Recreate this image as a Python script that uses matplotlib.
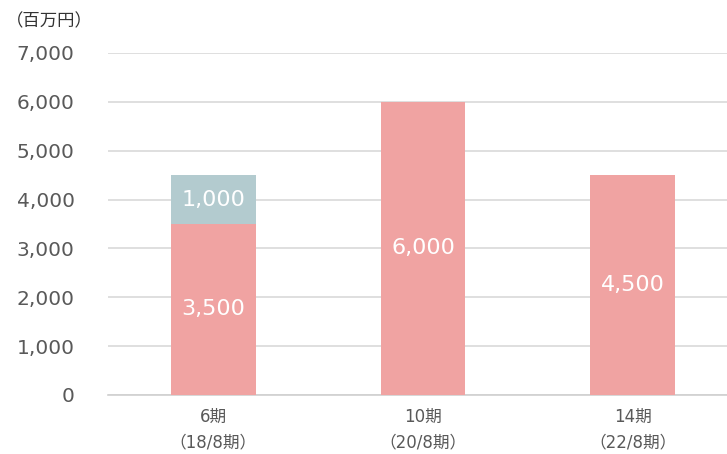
import matplotlib
matplotlib.use("Agg")
import matplotlib.pyplot as plt
import numpy as np

plt.rcParams['font.family'] = ['DejaVu Sans', 'Noto Sans CJK JP']

# data
categories = ["6期\n（18/8期）", "10期\n（20/8期）", "14期\n（22/8期）"]
base_values = [3500, 6000, 4500]
top_values = [1000, 0, 0]
y_ticks = [0, 1000, 2000, 3000, 4000, 5000, 6000, 7000]

pink = "#F0A3A2"
grey_blue = "#B3CBCF"
txt = "#595959"

fig = plt.figure(figsize=(7.27, 4.54), dpi=100)
ax = fig.add_axes([0.1486, 0.13, 0.8514, 0.7533])

x = np.arange(len(categories))
w = 0.405
ax.bar(x, base_values, w, color=pink, zorder=3)
ax.bar(x, top_values, w, bottom=base_values, color=grey_blue, zorder=3)

# white value labels inside bars
for i in range(len(x)):
    ax.text(x[i], base_values[i] / 2, f"{base_values[i]:,}", ha="center", va="center",
            color="white", fontsize=16, zorder=4)
    if top_values[i] > 0:
        ax.text(x[i], base_values[i] + top_values[i] / 2, f"{top_values[i]:,}",
                ha="center", va="center", color="white", fontsize=16, zorder=4)

ax.set_ylim(0, 7000)
ax.set_xlim(-0.502, 2.45)
ax.set_yticks(y_ticks)
ax.set_yticklabels([f"{v:,}" for v in y_ticks])
ax.set_xticks(x)
ax.set_xticklabels(categories, fontsize=12, color=txt, linespacing=1.6)
ax.tick_params(axis="y", length=0, pad=24, labelsize=14.5, labelcolor=txt)
ax.tick_params(axis="x", length=0, pad=9)

ax.grid(axis="y", color="#D9D9D9", linewidth=1.2, zorder=0)
for s in ["top", "right", "left"]:
    ax.spines[s].set_visible(False)
ax.spines["bottom"].set_color("#D0D0D0")
ax.spines["bottom"].set_linewidth(1.2)

fig.text(6 / 727, 1 - 21 / 454, "（百万円）", fontsize=12.5, color="#333333",
         ha="left", va="center")

fig.savefig("out.png", dpi=100)
